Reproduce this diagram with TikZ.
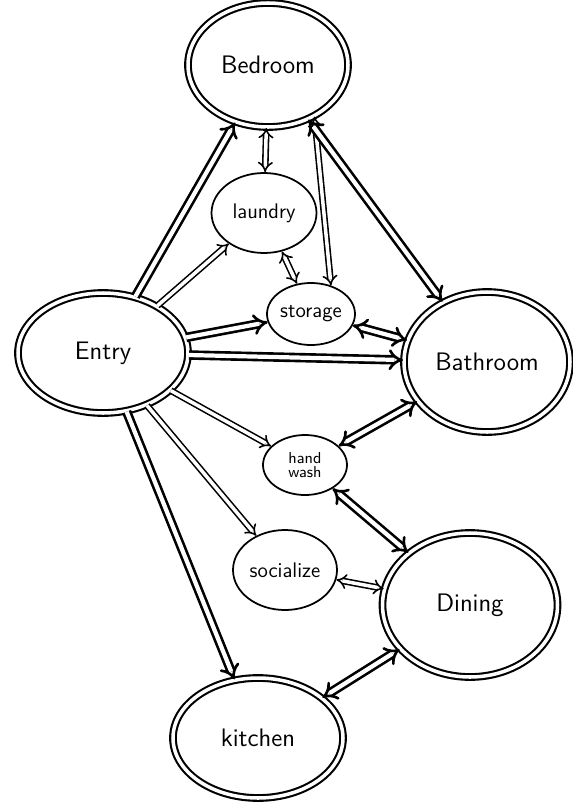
\documentclass[tikz,border=0pt]{standalone}
\usepackage{tikz}
\usetikzlibrary{arrows.meta,positioning,calc,shapes.geometric}

\begin{document}
\begin{tikzpicture}[
        room/.style={ellipse, draw, double, double distance=2pt, line width=1.2pt, font=\sffamily\Large},
        space/.style={ellipse, draw, line width=1pt, font=\sffamily\large, inner sep=0pt},
        link/.style={double, double distance=2pt, line width=0.9pt, {Implies}-{Implies}},
        main/.style={double, double distance=2.4pt, line width=1.5pt, {Implies}-{Implies}},
        one/.style={double, double distance=2pt, line width=0.9pt, -{Implies}},
        mainone/.style={double, double distance=2.4pt, line width=1.5pt, -{Implies}}
      ]
        \useasboundingbox (0,0) rectangle (11.46,-16.16);

        % Raeume
        \node[room, minimum width=3.2cm, minimum height=2.48cm] (bed) at (5.36,-1.30) {Bedroom};
        \node[room, minimum width=3.4cm, minimum height=2.4cm] (entry) at (2.06,-7.06) {Entry};
        \node[room, minimum width=3.32cm, minimum height=2.8cm] (bath) at (9.74,-7.24) {Bathroom};
        \node[room, minimum width=3.5cm, minimum height=2.88cm] (dining) at (9.40,-12.10) {Dining};
        \node[room, minimum width=3.4cm, minimum height=2.4cm] (kitchen) at (5.16,-14.76) {kitchen};

        % Bereiche
        \node[space, minimum width=2.1cm, minimum height=1.6cm] (laundry) at (5.28,-4.26) {laundry};
        \node[space, minimum width=1.76cm, minimum height=1.24cm] (storage) at (6.22,-6.28) {storage};
        \node[space, minimum width=1.68cm, minimum height=1.2cm, font=\sffamily\small, align=center] (wash) at (6.10,-9.30) {hand\\[-3pt]wash};
        \node[space, minimum width=2.08cm, minimum height=1.6cm] (social) at (5.70,-11.40) {socialize};

        % Verbindungen vom Eingang
        \draw[mainone] (entry) -- (bed);
        \draw[one] (entry) -- (laundry);
        \draw[mainone] (entry) -- (storage);
        \draw[mainone] (entry) -- (bath);
        \draw[one] (entry) -- (wash);
        \draw[one] (entry) -- (social);
        \draw[mainone] (entry) -- (kitchen);

        % uebrige Verbindungen
        \draw[link] (bed) -- (laundry);
        \draw[link] (bed.-48) -- (storage.55);
        \draw[main] (bed) -- (bath);
        \draw[link] (laundry.-65) -- (storage.115);
        \draw[main] (storage) -- (bath);
        \draw[main] (bath) -- (wash);
        \draw[main] (wash) -- (dining);
        \draw[link] (social) -- (dining);
        \draw[main] (dining) -- (kitchen);
      \end{tikzpicture}
\end{document}
